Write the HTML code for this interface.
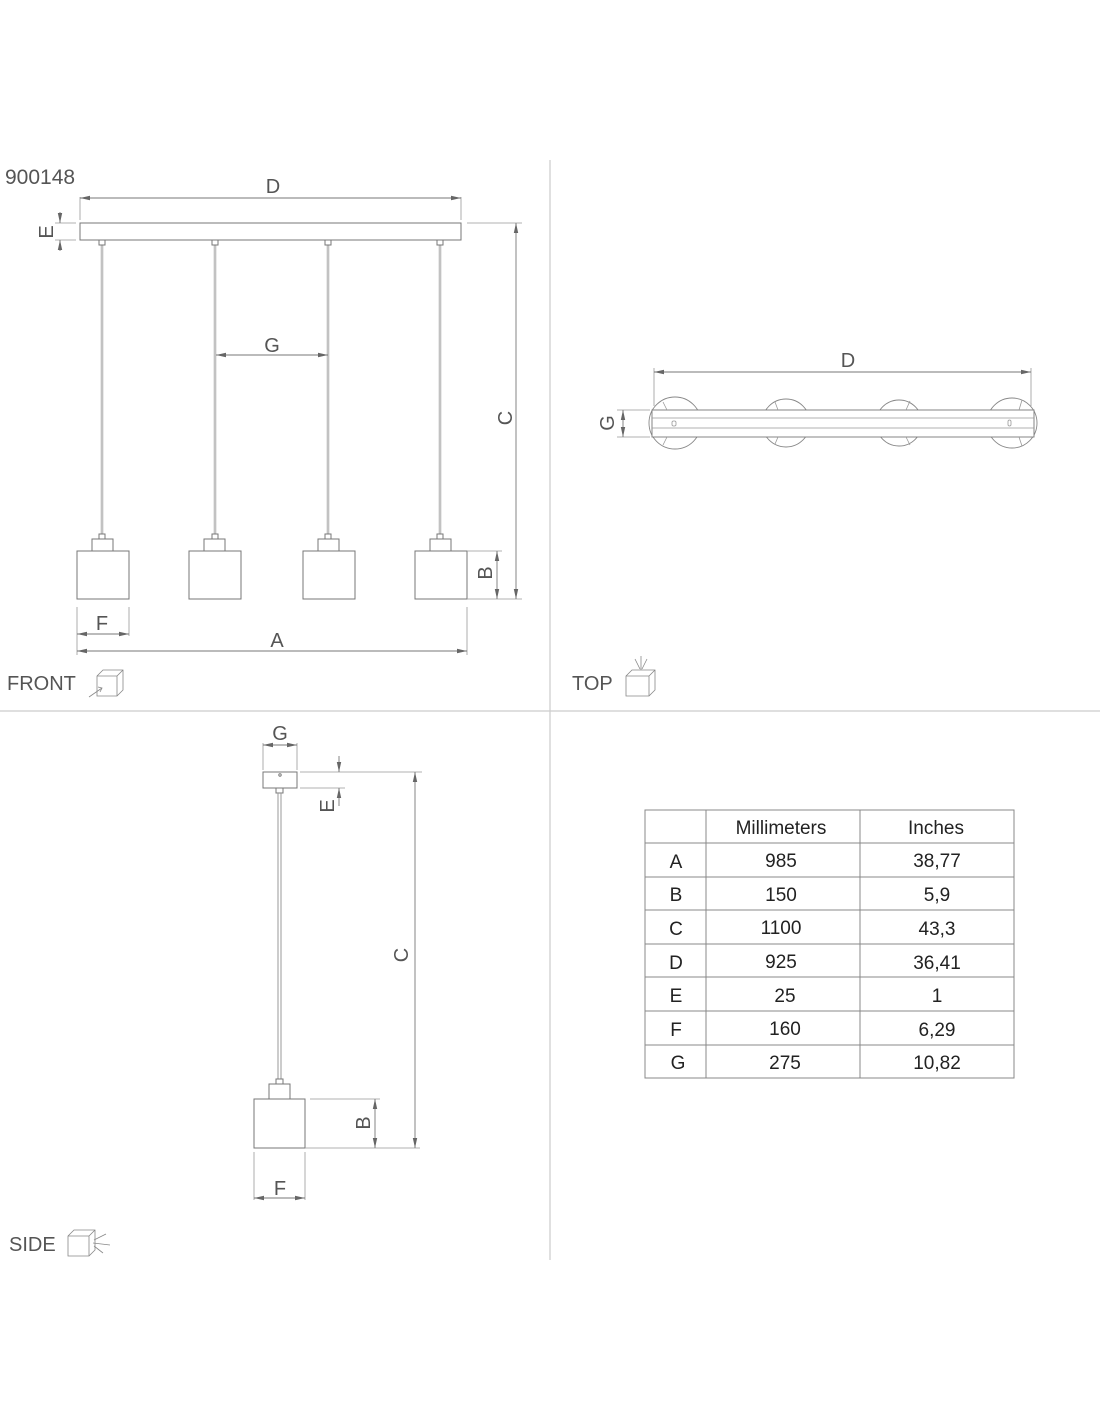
<!DOCTYPE html>
<html><head><meta charset="utf-8"><style>
html,body{margin:0;padding:0;background:#fff}
svg{display:block}
text{font-family:"Liberation Sans",sans-serif;fill:#555}
.t text{fill:#222;font-size:19px}
</style></head><body>
<svg width="1100" height="1422" viewBox="0 0 1100 1422" xmlns="http://www.w3.org/2000/svg">
<defs>
<marker id="a" viewBox="0 0 10 6" refX="10" refY="3" markerWidth="10" markerHeight="6" orient="auto-start-reverse" markerUnits="userSpaceOnUse"><path d="M0,0.8 L10,3 L0,5.2z" fill="#666"/></marker>
</defs>
<g stroke="#ccc" stroke-width="1.2" fill="none">
<line x1="550" y1="160" x2="550" y2="1260"/>
<line x1="0" y1="711" x2="1100" y2="711"/>
</g>
<text x="5" y="184" font-size="21">900148</text>
<!-- FRONT -->
<g stroke="#777" stroke-width="1" fill="none">
<rect x="80" y="223" width="381" height="17"/>
<g stroke="#999" stroke-width="2.4"><line x1="102" y1="245" x2="102" y2="534"/><line x1="215" y1="245" x2="215" y2="534"/><line x1="328" y1="245" x2="328" y2="534"/><line x1="440" y1="245" x2="440" y2="534"/></g>
<g stroke="#fff" stroke-width="0.8"><line x1="102" y1="245" x2="102" y2="534"/><line x1="215" y1="245" x2="215" y2="534"/><line x1="328" y1="245" x2="328" y2="534"/><line x1="440" y1="245" x2="440" y2="534"/></g>
<rect x="99" y="240" width="6" height="5"/><rect x="212" y="240" width="6" height="5"/><rect x="325" y="240" width="6" height="5"/><rect x="437" y="240" width="6" height="5"/>
<rect x="99" y="534" width="6" height="5"/><rect x="212" y="534" width="6" height="5"/><rect x="325" y="534" width="6" height="5"/><rect x="437" y="534" width="6" height="5"/>
<rect x="92" y="539" width="21" height="12"/><rect x="204" y="539" width="21" height="12"/><rect x="318" y="539" width="21" height="12"/><rect x="430" y="539" width="21" height="12"/>
<rect x="77" y="551" width="52" height="48"/><rect x="189" y="551" width="52" height="48"/><rect x="303" y="551" width="52" height="48"/><rect x="415" y="551" width="52" height="48"/>
</g>
<g stroke="#999" stroke-width="0.8" fill="none">
<line x1="80" y1="197" x2="80" y2="220"/><line x1="461" y1="197" x2="461" y2="220"/>
<line x1="467" y1="223" x2="522" y2="223"/>
<line x1="55" y1="223" x2="76" y2="223"/><line x1="55" y1="240" x2="76" y2="240"/>
<line x1="467" y1="599" x2="522" y2="599"/><line x1="467" y1="551" x2="502" y2="551"/>
<line x1="77" y1="607" x2="77" y2="655"/><line x1="129" y1="607" x2="129" y2="636"/><line x1="467" y1="607" x2="467" y2="655"/>
</g>
<g stroke="#777" stroke-width="0.9" fill="none">
<line x1="80" y1="198" x2="461" y2="198" marker-start="url(#a)" marker-end="url(#a)"/>
<line x1="60" y1="212" x2="60" y2="223" marker-end="url(#a)"/><line x1="60" y1="251" x2="60" y2="240" marker-end="url(#a)"/>
<line x1="216" y1="355" x2="328" y2="355" marker-start="url(#a)" marker-end="url(#a)"/>
<line x1="516" y1="223" x2="516" y2="599" marker-start="url(#a)" marker-end="url(#a)"/>
<line x1="497" y1="551" x2="497" y2="599" marker-start="url(#a)" marker-end="url(#a)"/>
<line x1="77" y1="634" x2="129" y2="634" marker-start="url(#a)" marker-end="url(#a)"/>
<line x1="77" y1="651" x2="467" y2="651" marker-start="url(#a)" marker-end="url(#a)"/>
</g>
<text x="273" y="193" font-size="20" text-anchor="middle">D</text>
<text x="272" y="352" font-size="20" text-anchor="middle">G</text>
<text x="102" y="630" font-size="20" text-anchor="middle">F</text>
<text x="277" y="647" font-size="20" text-anchor="middle">A</text>
<text transform="translate(53,232) rotate(-90)" font-size="20" text-anchor="middle" dy="0">E</text>
<text transform="translate(512,418) rotate(-90)" font-size="20" text-anchor="middle">C</text>
<text transform="translate(492,573) rotate(-90)" font-size="20" text-anchor="middle">B</text>
<text x="7" y="690" font-size="20">FRONT</text>
<g stroke="#888" stroke-width="0.8" fill="none">
<path d="M97,676 L103,670 L123,670 L123,690 L117,696 L97,696 Z M97,676 L117,676 L117,696 M117,676 L123,670"/>
<line x1="89" y1="697" x2="102" y2="688"/><path d="M98,687 L102,688 L100,692"/>
</g>
<!-- TOP -->
<g stroke="#888" stroke-width="0.9" fill="none">
<circle cx="675" cy="423" r="26"/><circle cx="786" cy="423" r="24"/><circle cx="899" cy="423" r="23"/><circle cx="1012" cy="423" r="25"/>
</g>
<rect x="652" y="410" width="382" height="27" fill="#fff" stroke="#777" stroke-width="0.9"/>
<g stroke="#999" stroke-width="0.8" fill="none">
<line x1="652" y1="418" x2="1034" y2="418"/><line x1="652" y1="428" x2="1034" y2="428"/>
<rect x="672" y="421" width="4" height="5" rx="1.5"/><rect x="1008" y="420" width="3" height="6" rx="1.5"/>
<line x1="663" y1="402" x2="667" y2="410"/><line x1="663" y1="445" x2="667" y2="437"/>
<line x1="775" y1="402" x2="778" y2="410"/><line x1="775" y1="444" x2="778" y2="437"/>
<line x1="910" y1="401" x2="906" y2="410"/><line x1="910" y1="445" x2="906" y2="437"/>
<line x1="1022" y1="400" x2="1019" y2="410"/><line x1="1022" y1="446" x2="1019" y2="437"/>
<line x1="654" y1="368" x2="654" y2="406"/><line x1="1031" y1="368" x2="1031" y2="406"/>
<line x1="617" y1="410" x2="650" y2="410"/><line x1="617" y1="437" x2="650" y2="437"/>
</g>
<g stroke="#777" stroke-width="0.9" fill="none">
<line x1="654" y1="372" x2="1031" y2="372" marker-start="url(#a)" marker-end="url(#a)"/>
<line x1="623" y1="410" x2="623" y2="437" marker-start="url(#a)" marker-end="url(#a)"/>
</g>
<text x="848" y="367" font-size="20" text-anchor="middle">D</text>
<text transform="translate(614,423) rotate(-90)" font-size="20" text-anchor="middle">G</text>
<text x="572" y="690" font-size="20">TOP</text>
<g stroke="#888" stroke-width="0.8" fill="none">
<path d="M626,676 L632,670 L655,670 L655,690 L649,696 L626,696 Z M626,676 L649,676 L649,696 M649,676 L655,670"/>
<line x1="641" y1="656" x2="641" y2="670"/><line x1="635" y1="659" x2="640" y2="669"/><line x1="647" y1="659" x2="642" y2="669"/>
</g>
<!-- SIDE -->
<g stroke="#777" stroke-width="1" fill="none">
<rect x="263" y="772" width="34" height="16"/>
<circle cx="280" cy="775" r="1.2"/>
<rect x="276" y="788" width="7" height="5"/>
<line x1="278" y1="793" x2="278" y2="1079" stroke="#999"/><line x1="281" y1="793" x2="281" y2="1079" stroke="#999"/>
<rect x="276" y="1079" width="7" height="5"/>
<rect x="269" y="1084" width="21" height="15"/>
<rect x="254" y="1099" width="51" height="49"/>
</g>
<g stroke="#999" stroke-width="0.8" fill="none">
<line x1="263" y1="743" x2="263" y2="770"/><line x1="297" y1="743" x2="297" y2="770"/>
<line x1="300" y1="772" x2="422" y2="772"/><line x1="300" y1="788" x2="345" y2="788"/>
<line x1="310" y1="1099" x2="380" y2="1099"/><line x1="305" y1="1148" x2="420" y2="1148"/>
<line x1="254" y1="1152" x2="254" y2="1200"/><line x1="305" y1="1152" x2="305" y2="1200"/>
</g>
<g stroke="#777" stroke-width="0.9" fill="none">
<line x1="263" y1="745" x2="297" y2="745" marker-start="url(#a)" marker-end="url(#a)"/>
<line x1="339" y1="756" x2="339" y2="772" marker-end="url(#a)"/><line x1="339" y1="806" x2="339" y2="788" marker-end="url(#a)"/>
<line x1="415" y1="772" x2="415" y2="1148" marker-start="url(#a)" marker-end="url(#a)"/>
<line x1="375" y1="1099" x2="375" y2="1148" marker-start="url(#a)" marker-end="url(#a)"/>
<line x1="254" y1="1198" x2="305" y2="1198" marker-start="url(#a)" marker-end="url(#a)"/>
</g>
<text x="280" y="740" font-size="20" text-anchor="middle">G</text>
<text transform="translate(334,806) rotate(-90)" font-size="20" text-anchor="middle">E</text>
<text transform="translate(408,955) rotate(-90)" font-size="20" text-anchor="middle">C</text>
<text transform="translate(370,1123) rotate(-90)" font-size="20" text-anchor="middle">B</text>
<text x="280" y="1195" font-size="20" text-anchor="middle">F</text>
<text x="9" y="1251" font-size="20">SIDE</text>
<g stroke="#888" stroke-width="0.8" fill="none">
<path d="M68,1236 L74,1230 L95,1230 L95,1250 L89,1256 L68,1256 Z M68,1236 L89,1236 L89,1256 M89,1236 L95,1230"/>
<line x1="93" y1="1243" x2="110" y2="1245"/><line x1="94" y1="1240" x2="106" y2="1234"/><line x1="94" y1="1246" x2="103" y2="1253"/>
</g>
<!-- TABLE -->
<g stroke="#888" stroke-width="1" fill="none">
<rect x="645" y="810" width="369" height="268"/>
<line x1="706" y1="810" x2="706" y2="1078"/><line x1="860" y1="810" x2="860" y2="1078"/>
<line x1="645" y1="843" x2="1014" y2="843"/><line x1="645" y1="877" x2="1014" y2="877"/><line x1="645" y1="910" x2="1014" y2="910"/><line x1="645" y1="944" x2="1014" y2="944"/><line x1="645" y1="977" x2="1014" y2="977"/><line x1="645" y1="1011" x2="1014" y2="1011"/><line x1="645" y1="1045" x2="1014" y2="1045"/>
</g>
<g class="t" text-anchor="middle">
<text x="781" y="834">Millimeters</text><text x="936" y="834">Inches</text>
<text x="676" y="868">A</text><text x="781" y="867">985</text><text x="937" y="867">38,77</text>
<text x="676" y="901">B</text><text x="781" y="901">150</text><text x="937" y="901">5,9</text>
<text x="676" y="935">C</text><text x="781" y="934">1100</text><text x="937" y="935">43,3</text>
<text x="676" y="969">D</text><text x="781" y="968">925</text><text x="937" y="969">36,41</text>
<text x="676" y="1002">E</text><text x="785" y="1002">25</text><text x="937" y="1002">1</text>
<text x="676" y="1036">F</text><text x="785" y="1035">160</text><text x="937" y="1036">6,29</text>
<text x="678" y="1069">G</text><text x="785" y="1069">275</text><text x="937" y="1069">10,82</text>
</g>
</svg>
</body></html>
